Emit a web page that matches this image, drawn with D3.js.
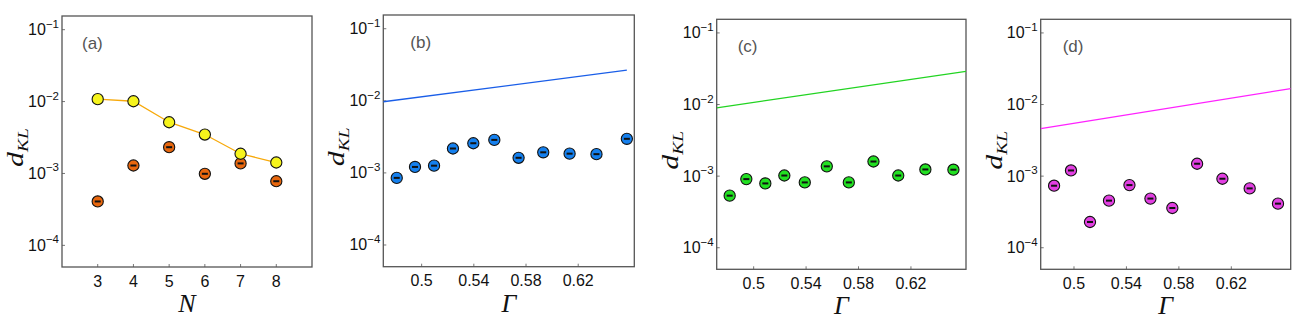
<!DOCTYPE html>
<html><head><meta charset="utf-8">
<script src="https://cdn.jsdelivr.net/npm/d3@7"></script>
<style>body{margin:0;background:#fff}svg{display:block}</style>
</head><body><svg id="c" width="1298" height="326"></svg>
<script>
// ---- data ----
const nValues = [3, 4, 5, 6, 7, 8];
const aUpper = [0.0108, 0.0101, 0.00516, 0.00348, 0.00188, 0.00142];
const aLower = [0.000408, 0.00129, 0.00232, 0.00099, 0.00138, 0.00078];

const gammaB = [0.4809, 0.4949, 0.5095, 0.524, 0.5396, 0.5557, 0.5743, 0.5932, 0.6134, 0.634, 0.6573];
const valuesB = [0.000853, 0.00121, 0.00126, 0.00218, 0.00258, 0.00287, 0.00162, 0.00193, 0.00185, 0.00182, 0.00297];
const lineB = [[0.4706, 0.0097], [0.6573, 0.0266]];

const gammaC = [0.4817, 0.4944, 0.5089, 0.5234, 0.539, 0.5558, 0.5726, 0.5914, 0.6103, 0.631, 0.6524];
const valuesC = [0.000534, 0.000909, 0.000791, 0.00102, 0.000817, 0.00137, 0.000817, 0.0016, 0.00102, 0.00124, 0.00123];
const lineC = [[0.4718, 0.0090], [0.662, 0.0290]];

const gammaD = [0.4848, 0.4977, 0.5122, 0.5267, 0.5423, 0.5583, 0.575, 0.5939, 0.6132, 0.634, 0.6556];
const valuesD = [0.000735, 0.0012, 0.000229, 0.000455, 0.00075, 0.000486, 0.000359, 0.00149, 0.00092, 0.000674, 0.000413];
const lineD = [[0.4746, 0.0046], [0.6653, 0.0167]];

const yTicks = [1e-1, 1e-2, 1e-3, 1e-4];
const yTickExp = ["−1", "−2", "−3", "−4"];
const nTicks = [3, 4, 5, 6, 7, 8];
const gTicks = [0.5, 0.54, 0.58, 0.62];
const gTickLabels = ["0.5", "0.54", "0.58", "0.62"];

// ---- layout ----
const panels = [
  {id:"(a)", box:[62,16,312,267], xd:[2,9], ticks:nTicks, tickLabels:nTicks.map(String), xlab:"N", lx:20},
  {id:"(b)", box:[383.3,15,634.3,266.7], xd:[0.4706,0.663], ticks:gTicks, tickLabels:gTickLabels, xlab:"Γ", lx:27,
   pts:gammaB, vals:valuesB, line:lineB, fill:"#1580ee", lc:"#1a5ee8"},
  {id:"(c)", box:[716.7,19.3,966,269.3], xd:[0.4718,0.662], ticks:gTicks, tickLabels:gTickLabels, xlab:"Γ", lx:21,
   pts:gammaC, vals:valuesC, line:lineC, fill:"#22e022", lc:"#22d422"},
  {id:"(d)", box:[1040.7,19.3,1290.7,269.3], xd:[0.4746,0.6653], ticks:gTicks, tickLabels:gTickLabels, xlab:"Γ", lx:22,
   pts:gammaD, vals:valuesD, line:lineD, fill:"#e23fe2", lc:"#ff22ff"}
];
const yDomain = [5e-5, 0.155];
const svg = d3.select("#c");

function marker(g, x, y, fill, bar){
  g.append("circle").attr("cx",x).attr("cy",y).attr("r",5.6)
    .attr("fill",fill).attr("stroke","#111").attr("stroke-width",1.1);
  if(bar) g.append("rect").attr("x",x-3).attr("y",y-1).attr("width",6).attr("height",2).attr("fill","#111");
}

panels.forEach((p,i)=>{
  const [L,T,R,B] = p.box;
  const x = d3.scaleLinear().domain(p.xd).range([L,R]);
  const y = d3.scaleLog().domain(yDomain).range([B,T]);
  const g = svg.append("g");
  const clipId = "clip"+i;
  svg.append("clipPath").attr("id",clipId).append("rect").attr("x",L).attr("y",T).attr("width",R-L).attr("height",B-T);

  // ticks
  yTicks.forEach((t,k)=>{
    g.append("line").attr("x1",L).attr("x2",L+3).attr("y1",y(t)).attr("y2",y(t)).attr("stroke","#777").attr("stroke-width",1);
    const tx = g.append("text").attr("x",L-3).attr("y",y(t)+5.5).attr("text-anchor","end")
      .attr("font-family","Liberation Sans, Arial, sans-serif").attr("font-size",16).attr("fill","#111");
    tx.append("tspan").text("10");
    tx.append("tspan").attr("dy",-7.5).attr("font-size",11.5).text(yTickExp[k]);
  });
  p.ticks.forEach((t,k)=>{
    g.append("line").attr("x1",x(t)).attr("x2",x(t)).attr("y1",B).attr("y2",B-3).attr("stroke","#777").attr("stroke-width",1);
    g.append("text").attr("x",x(t)).attr("y",B+19.5).attr("text-anchor","middle")
      .attr("font-family","Liberation Sans, Arial, sans-serif").attr("font-size",16).attr("fill","#111").text(p.tickLabels[k]);
  });

  // frame
  g.append("rect").attr("x",L).attr("y",T).attr("width",R-L).attr("height",B-T)
    .attr("fill","none").attr("stroke","#555").attr("stroke-width",1.3);

  // panel label
  g.append("text").attr("x",L+p.lx).attr("y",T+33).attr("font-family","Liberation Sans, Arial, sans-serif")
    .attr("font-size",17).attr("fill","#555").text(p.id);

  // axis titles
  g.append("text").attr("x",(L+R)/2).attr("y",B+45).attr("text-anchor","middle")
    .attr("font-family","Liberation Serif, serif").attr("font-style","italic").attr("font-size",26).attr("fill","#111").text(p.xlab);
  const yl = g.append("text").attr("transform",`translate(${L-39},${(T+B)/2+6}) rotate(-90) scale(1.3,1)`).attr("text-anchor","middle")
    .attr("font-family","Liberation Serif, serif").attr("font-style","italic").attr("fill","#111");
  yl.append("tspan").attr("font-size",23).text("d");
  yl.append("tspan").attr("font-size",15).attr("dy",5).text("KL");

  const cg = g.append("g").attr("clip-path",`url(#${clipId})`);
  if(i===0){
    const ln = d3.line().x((d,k)=>x(nValues[k])).y(d=>y(d));
    cg.append("path").attr("d",ln(aUpper)).attr("fill","none").attr("stroke","#f7a90a").attr("stroke-width",1.3);
    nValues.forEach((n,k)=>marker(cg,x(n),y(aLower[k]),"#e8670e",true));
    nValues.forEach((n,k)=>marker(cg,x(n),y(aUpper[k]),"#f6f41c",false));
  } else {
    const ln = d3.line().x(d=>x(d[0])).y(d=>y(d[1]));
    cg.append("path").attr("d",ln(p.line)).attr("fill","none").attr("stroke",p.lc).attr("stroke-width",1.3);
    p.pts.forEach((gm,k)=>marker(cg,x(gm),y(p.vals[k]),p.fill,true));
  }
});
</script></body></html>
